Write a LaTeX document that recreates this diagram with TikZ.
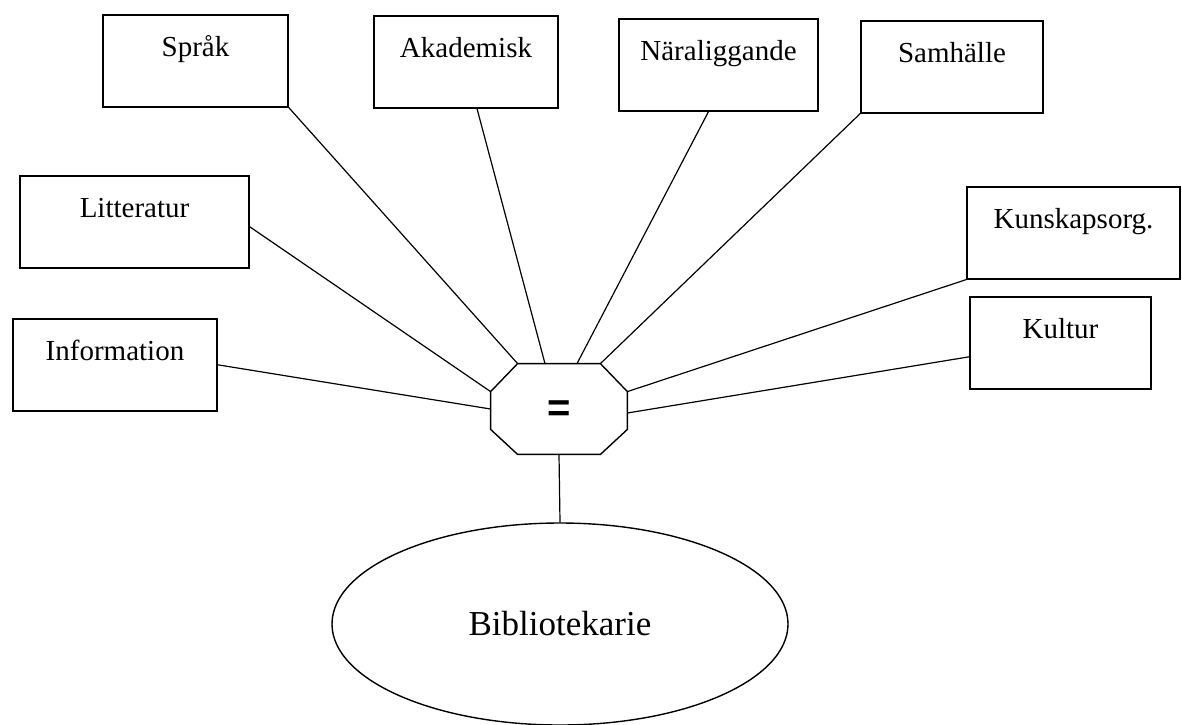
\documentclass[tikz,border=0pt]{standalone}
\usepackage{fontspec}
\setmainfont{Liberation Serif}
\newfontfamily\hubfont{Liberation Sans}
\usetikzlibrary{shapes,positioning,calc}

\begin{document}
\begin{tikzpicture}[
    x=0.5pt, y=-0.5pt,
    field/.style={rectangle,draw,line width=0.8pt,anchor=north,inner xsep=0pt,inner ysep=0pt,
        text height=21pt,text depth=25pt,minimum width=#1,font=\fontsize{14.5pt}{17pt}\selectfont},
    hub/.style={rectangle,inner sep=0pt,minimum width=68pt,minimum height=45pt,
        text height=14pt,text depth=2pt,font=\hubfont\bfseries\fontsize{20pt}{22pt}\selectfont},
    role/.style={ellipse,draw,line width=0.7pt,inner sep=0pt,minimum width=228pt,minimum height=101pt,
        font=\fontsize{17.5pt}{20pt}\selectfont},
    link/.style={draw,line width=0.6pt}
    ]
        \path [use as bounding box,fill=white] (0,0) rectangle (1182,724);

        \node [field=92.5pt](sprak) at (195.5,14) {Språk};
        \node [field=92pt](akad) at (466,15) {Akademisk};
        \node [field=99.5pt](nara) at (718.5,18) {Näraliggande};
        \node [field=91pt](samh) at (952,20) {Samhälle};
        \node [field=114.5pt](litt) at (134.5,175) {Litteratur};
        \node [field=106.5pt](kunsk) at (1073.5,186) {Kunskapsorg.};
        \node [field=102pt](info) at (115,318) {Information};
        \node [field=90.5pt](kult) at (1060.5,296) {Kultur};

        \node [hub](eq) at (559,409) {=};
        \node [role](bib) at (560,624) {Bibliotekarie};

        % octagon round the hub
        \coordinate (eq-tl) at ([xshift=13.5pt]eq.north west);
        \coordinate (eq-tr) at ([xshift=-13.5pt]eq.north east);
        \coordinate (eq-rt) at ([yshift=-14pt]eq.north east);
        \coordinate (eq-rb) at ([yshift=12.5pt]eq.south east);
        \coordinate (eq-br) at ([xshift=-13.5pt]eq.south east);
        \coordinate (eq-bl) at ([xshift=13.5pt]eq.south west);
        \coordinate (eq-lb) at ([yshift=12.5pt]eq.south west);
        \coordinate (eq-lt) at ([yshift=-14pt]eq.north west);
        \draw [line width=0.7pt] (eq-tl) -- (eq-tr) -- (eq-rt) -- (eq-rb) -- (eq-br) -- (eq-bl) -- (eq-lb) -- (eq-lt) -- cycle;

        \draw [link] (info.east) edge (eq.west);
        \draw [link] ([yshift=-2.5pt]litt.east) edge (eq-lt);
        \draw [link] (sprak.south east) edge (eq-tl);
        \draw [link] ([xshift=5.5pt]akad.south) edge ([xshift=-7pt]eq.north);
        \draw [link] ([xshift=-5pt]nara.south) edge ([xshift=9pt]eq.north);
        \draw [link] (samh.south west) edge (eq-tr);
        \draw [link] (kunsk.south west) edge (eq-rt);
        \draw [link] ([yshift=-7pt]kult.west) edge ([yshift=-2pt]eq.east);
        \draw [link] (eq.south) edge (bib.north);
\end{tikzpicture}
\end{document}
